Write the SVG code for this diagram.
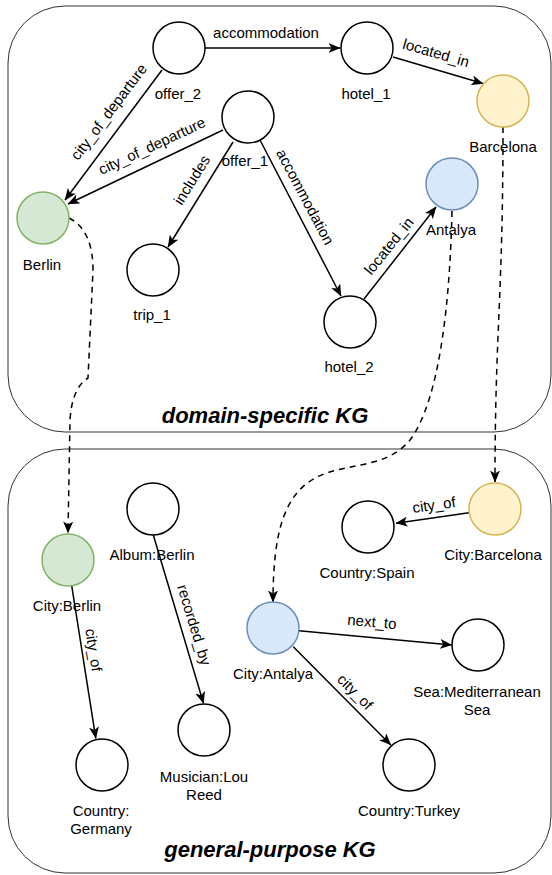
<svg xmlns="http://www.w3.org/2000/svg" width="552" height="875" viewBox="0 0 552 875">
<defs>
<style>
.box{fill:none;stroke:#333;stroke-width:1}
.title{font-family:"Liberation Sans",Arial,Helvetica,sans-serif;font-size:22px;font-weight:bold;font-style:italic;fill:#000;text-anchor:middle}
.node{fill:#fff;stroke:#000;stroke-width:1.5}
.green{fill:#d5e8d4;stroke:#82b366}
.yellow{fill:#fff2cc;stroke:#d6b656}
.blue{fill:#dae8fc;stroke:#6c8ebf}
.lbl{font-family:"Liberation Sans",Arial,Helvetica,sans-serif;font-size:15px;fill:#000;text-anchor:middle}
.edge{fill:none;stroke:#000;stroke-width:1.5;marker-end:url(#arr)}
.dash{stroke-dasharray:6 5}
</style>
<marker id="arr" viewBox="0 0 12 10" refX="11.5" refY="5" markerWidth="12" markerHeight="10" markerUnits="userSpaceOnUse" orient="auto">
<path d="M0,0 L12,5 L0,10 L3,5 Z" fill="#000"/>
</marker>
</defs>

<g id="domain-kg">
<rect class="box" x="8" y="6" width="543" height="426" rx="57" ry="57"/>
<text class="title" x="265" y="423">domain-specific KG</text>
</g>
<g id="general-kg">
<rect class="box" x="8" y="449" width="543" height="424" rx="57" ry="57"/>
<text class="title" x="270" y="857">general-purpose KG</text>
</g>

<g id="connectors">
<line class="edge" x1="162" y1="70" x2="65" y2="200"/>
<text class="lbl" transform="translate(109,112) rotate(-53)" dy="5">city_of_departure</text>
<line class="edge" x1="223" y1="130" x2="68" y2="204"/>
<text class="lbl" transform="translate(152,146) rotate(-25)" dy="5">city_of_departure</text>
<line class="edge" x1="233" y1="142" x2="168" y2="247"/>
<text class="lbl" transform="translate(192,180) rotate(-58)" dy="5">includes</text>
<line class="edge" x1="260" y1="140" x2="341" y2="296"/>
<text class="lbl" transform="translate(305,197) rotate(62)" dy="5">accommodation</text>
<line class="edge" x1="205" y1="48" x2="340" y2="48"/>
<text class="lbl" x="266" y="38">accommodation</text>
<line class="edge" x1="393" y1="57" x2="483" y2="83.5"/>
<text class="lbl" transform="translate(436,53) rotate(16)" dy="5">located_in</text>
<line class="edge" x1="364" y1="299" x2="436" y2="207"/>
<text class="lbl" transform="translate(389,246) rotate(-51)" dy="5">located_in</text>

<line class="edge" x1="469" y1="512.7" x2="396" y2="523.3"/>
<text class="lbl" transform="translate(434,505) rotate(-8)" dy="5">city_of</text>
<line class="edge" x1="299" y1="630.7" x2="451.7" y2="645"/>
<text class="lbl" transform="translate(372,622) rotate(5)" dy="5">next_to</text>
<line class="edge" x1="293.3" y1="646.7" x2="390.8" y2="745"/>
<text class="lbl" transform="translate(355,692) rotate(45)" dy="5">city_of</text>
<line class="edge" x1="71.7" y1="585.7" x2="95.8" y2="738.3"/>
<text class="lbl" transform="translate(93.5,650) rotate(81)" dy="5">city_of</text>
<line class="edge" x1="153.3" y1="535" x2="203.5" y2="703.3"/>
<text class="lbl" transform="translate(194,625) rotate(73)" dy="5">recorded_by</text>

<path class="edge dash" d="M69,218 Q93,230 93,270 L88,378 Q72,388 70,420 L68,533"/>
<path class="edge dash" d="M503,127 C503,300 495,330 495,482"/>
<path class="edge dash" d="M452,211 C450,300 440,400 410,440 C385,470 345,462 315,478 C285,495 273,530 273,602"/>
</g>

<g id="n-offer2"><circle class="node" cx="179" cy="48" r="26"/><text class="lbl" x="178" y="99">offer_2</text></g>
<g id="n-offer1"><circle class="node" cx="248" cy="117" r="26"/><text class="lbl" x="245" y="166">offer_1</text></g>
<g id="n-hotel1"><circle class="node" cx="367" cy="48" r="26"/><text class="lbl" x="366" y="99">hotel_1</text></g>
<g id="n-barcelona"><circle class="node yellow" cx="503" cy="101" r="26"/><text class="lbl" x="503" y="152">Barcelona</text></g>
<g id="n-antalya"><circle class="node blue" cx="452" cy="184" r="26"/><text class="lbl" x="451" y="235">Antalya</text></g>
<g id="n-berlin"><circle class="node green" cx="43" cy="218" r="26"/><text class="lbl" x="42" y="270">Berlin</text></g>
<g id="n-trip1"><circle class="node" cx="153" cy="270" r="26"/><text class="lbl" x="152" y="320">trip_1</text></g>
<g id="n-hotel2"><circle class="node" cx="350" cy="322" r="26"/><text class="lbl" x="349" y="372">hotel_2</text></g>

<g id="n-city-barcelona"><circle class="node yellow" cx="495" cy="509" r="26"/><text class="lbl" x="493" y="560">City:Barcelona</text></g>
<g id="n-country-spain"><circle class="node" cx="368" cy="527" r="26"/><text class="lbl" x="367" y="578">Country:Spain</text></g>
<g id="n-city-berlin"><circle class="node green" cx="68" cy="560" r="26"/><text class="lbl" x="67" y="611">City:Berlin</text></g>
<g id="n-album-berlin"><circle class="node" cx="153" cy="509" r="26"/><text class="lbl" x="152" y="560">Album:Berlin</text></g>
<g id="n-city-antalya"><circle class="node blue" cx="273" cy="628" r="26"/><text class="lbl" x="273" y="679">City:Antalya</text></g>
<g id="n-sea"><circle class="node" cx="478" cy="645" r="26"/><text class="lbl" x="477" y="697">Sea:Mediterranean</text><text class="lbl" x="477" y="715">Sea</text></g>
<g id="n-country-germany"><circle class="node" cx="102" cy="765" r="26"/><text class="lbl" x="101" y="816">Country:</text><text class="lbl" x="101" y="834">Germany</text></g>
<g id="n-musician"><circle class="node" cx="204" cy="730" r="26"/><text class="lbl" x="204" y="782">Musician:Lou</text><text class="lbl" x="204" y="800">Reed</text></g>
<g id="n-country-turkey"><circle class="node" cx="409" cy="765" r="26"/><text class="lbl" x="409" y="816">Country:Turkey</text></g>
</svg>
